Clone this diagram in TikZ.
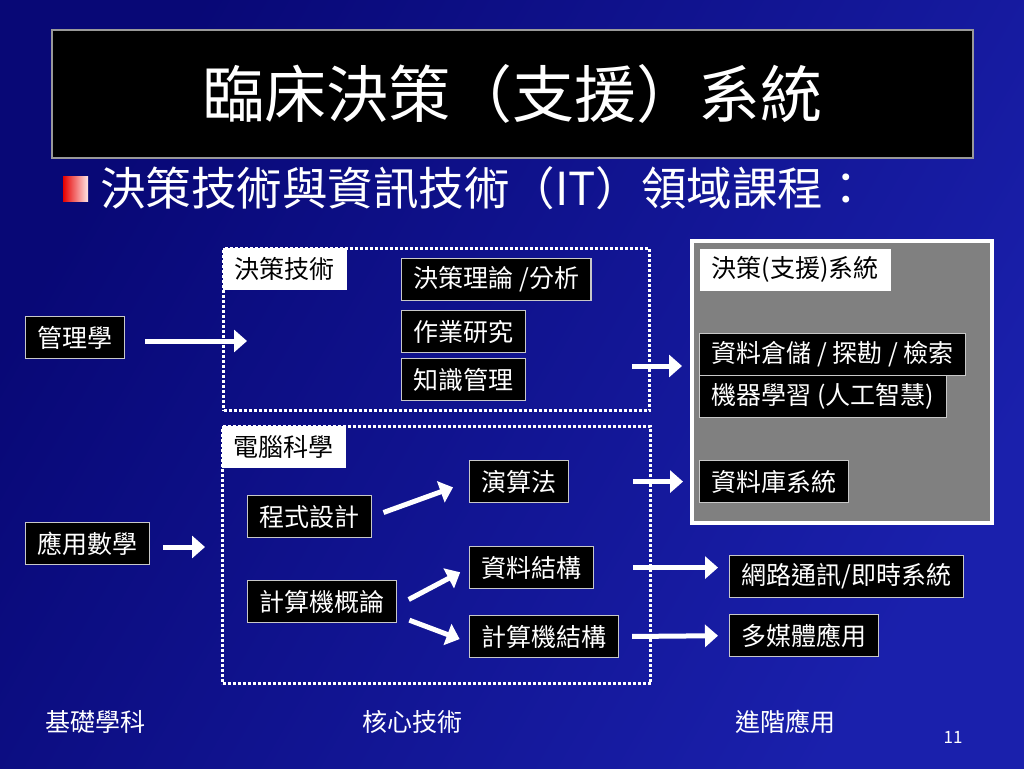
\documentclass[tikz,border=0pt]{standalone}
\usepackage{fontspec}
\setmainfont{Noto Sans CJK TC}
\usetikzlibrary{arrows.meta}

\definecolor{slidedark}{RGB}{8,8,118}
\definecolor{slidelight}{RGB}{26,32,172}
\definecolor{boxline}{RGB}{200,200,200}
\definecolor{panelgray}{RGB}{128,128,128}

\begin{document}
\begin{tikzpicture}[
            x=1pt, y=-1pt,
            box/.style={draw=boxline, line width=1.2pt, fill=black, text=white, font=\fontsize{25}{30}\selectfont,
                inner xsep=12pt, inner ysep=0pt, minimum height=42pt, anchor=north west},
            tag/.style={box, draw=none, fill=white, text=black},
            group/.style={draw=white, line width=3pt, dash pattern=on 3pt off 2pt, anchor=north west},
            flow/.style={draw=white, line width=5pt, -{Triangle[length=13pt, width=22pt]}},
            foot/.style={text=white, font=\fontsize{25}{30}\selectfont},
        ]
            % slide background and heading
            \shade[left color=slidedark, right color=slidelight, shading angle=60] (0,0) rectangle (1024,768);
            \node[draw=gray!80, line width=1.5pt, fill=black, text=white, minimum width=921pt, minimum height=128pt,
                font=\fontsize{62}{70}\selectfont] (title) at (512.5,94) {臨床決策（支援）系統};
            \shade[left color=red!90!black, right color=red!10!white] (63,176) rectangle (88,201);
            \node[text=white, anchor=west, inner sep=0pt, font=\fontsize{45.5}{50}\selectfont] (subtitle) at (100,188)
                {決策技術與資訊技術（IT）領域課程：};

            % the two dotted groups and the gray panel
            \node[group, minimum width=426pt, minimum height=162pt] (dtgroup) at (222,247) {};
            \node[group, minimum width=428pt, minimum height=257pt] (csgroup) at (221,425) {};
            \node[draw=white, line width=4pt, fill=panelgray, minimum width=300pt, minimum height=282pt,
                anchor=north west] (dss) at (690,239) {};

            % labels of the groups
            \node[tag] (dtlabel) at (222,247) {決策技術};
            \node[tag] (cslabel) at (221,425) {電腦科學};
            \node[tag] (dsslabel) at (699,248) {決策(支援)系統};

            % course boxes
            \node[box] (mgmt) at (25,316) {管理學};
            \node[box] (math) at (25,522) {應用數學};
            \node[box] (dtheory) at (401,258) {決策理論 /分析};
            \node[box] (orres) at (401,310) {作業研究};
            \node[box] (km) at (401,358) {知識管理};
            \node[box] (prog) at (247,495) {程式設計};
            \node[box] (intro) at (247,580) {計算機概論};
            \node[box] (algo) at (469,460) {演算法};
            \node[box] (ds) at (469,546) {資料結構};
            \node[box] (arch) at (469,615) {計算機結構};
            \node[box] (dw) at (699,333) {資料倉儲 / 探勘 / 檢索};
            \node[box] (ml) at (699,375) {機器學習 (人工智慧)};
            \node[box] (db) at (699,460) {資料庫系統};
            \node[box] (net) at (729,555) {網路通訊/即時系統};
            \node[box] (mm) at (729,614) {多媒體應用};

            % arrows
            \coordinate (dt in) at (247,341);
            \coordinate (cs in) at (205,547);
            \coordinate (dt out) at (632,366);
            \draw[flow, shorten <=20pt] (mgmt.east |- dt in) -- (dt in);
            \draw[flow, shorten <=13pt] (math.east |- cs in) -- (cs in);
            \draw[flow, shorten >=8pt] (dt out) -- (dss.west |- dt out);
            \draw[flow, shorten <=12pt, shorten >=17pt] (prog.east) -- (algo.west);
            \draw[flow, shorten <=13pt, shorten >=10pt] ([yshift=-4pt]intro.east) -- (ds.west);
            \draw[flow, shorten <=13pt, shorten >=10pt] ([yshift=-14pt]intro.east) -- ([yshift=-6pt]arch.west);
            \draw[flow, shorten <=64pt, shorten >=16pt] (algo.east) -- (db.west);
            \draw[flow, shorten <=39pt, shorten >=11pt] (ds.east) -- (net.west |- ds.east);
            \draw[flow, shorten <=13pt, shorten >=11pt] (arch.east) -- (mm.west);

            % column captions
            \foreach \x/\txt/\nm in {95/基礎學科/basic, 412/核心技術/core, 785/進階應用/adv}{
                \node[foot] (\nm) at (\x,722) {\txt};
            }
            \node[text=white, font=\fontsize{17}{20}\selectfont] (pageno) at (953,737) {11};
        \end{tikzpicture}
\end{document}
